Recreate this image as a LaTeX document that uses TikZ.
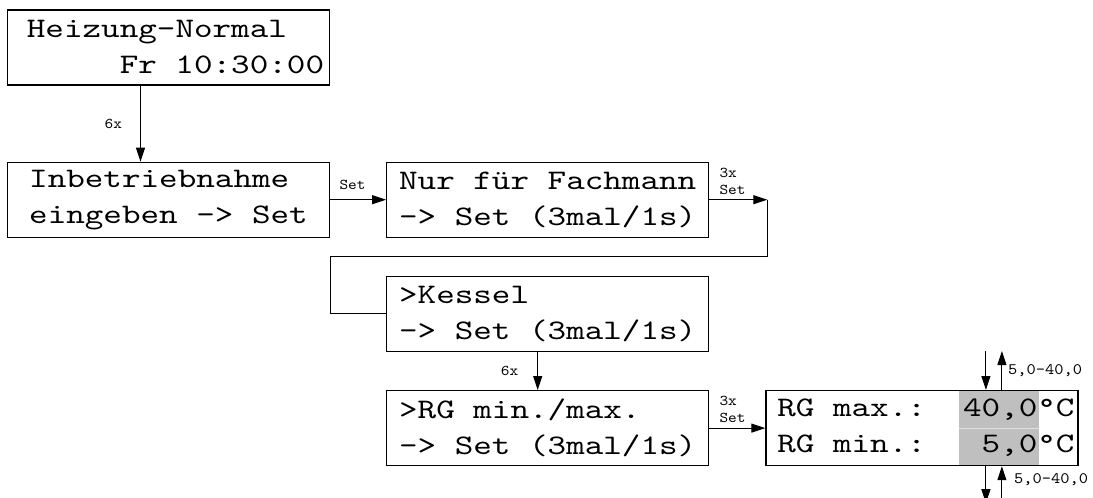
\documentclass[tikz,border=0pt]{standalone}
\usepackage{fontspec}
\usetikzlibrary{positioning,arrows.meta,backgrounds}
\newfontfamily\lcdfont{lmmono10-regular.otf}[FakeStretch=1.25]
\newfontfamily\kleinfont{lmmono10-regular.otf}[FakeStretch=1.1]

\tikzset{
  lcd/.style={draw, line width=1.2pt, minimum width=322pt, minimum height=75pt,
    inner sep=0pt, align=left, font=\lcdfont\fontsize{28.3}{36}\selectfont},
  pfeil/.style={-{Triangle[length=14pt,width=9pt]}, line width=1pt},
  klein/.style={font=\kleinfont\fontsize{15}{17}\selectfont, inner sep=0pt, align=left},
  bereich/.style={font=\kleinfont\fontsize{16}{17}\selectfont, inner sep=0pt, anchor=west},
}

\begin{document}
\begin{tikzpicture}[x=1pt, y=-1pt]
    \useasboundingbox (0, 0) rectangle (1093, 498);

    % 显示框
    \node[lcd] (normal) at (168.5, 47.5) {\hspace*{14pt}Heizung-Normal\\\hspace*{14pt}\hphantom{00000}Fr 10:30:00};
    \node[lcd, below=76pt of normal] (inbetrieb) {Inbetriebnahme\\eingeben -> Set};
    \node[lcd, right=56pt of inbetrieb] (fachmann) {Nur für Fachmann\\-> Set (3mal/1s)};
    \node[lcd, below=38pt of fachmann] (kessel) {>Kessel\\-> Set (3mal/1s)};
    \node[lcd, below=38pt of kessel] (rgmenu) {>RG min./max.\\-> Set (3mal/1s)};
    \node[lcd, minimum width=312pt, right=56pt of rgmenu] (rgwerte)
        {\hspace*{8pt}RG max.:\hphantom{00}40,0°C\\\hspace*{8pt}RG min.:\hphantom{000}5,0°C};

    % 灰色数值区
    \begin{scope}[on background layer]
        \fill[black!25] ([xshift=194pt]rgwerte.north west) rectangle ([xshift=274pt]rgwerte.south west);
        \draw[black!12, line width=1pt] ([xshift=194pt]rgwerte.west) -- ([xshift=274pt]rgwerte.west);
    \end{scope}

    % 连线
    \draw[pfeil] ([xshift=-28pt]normal.south) -- ([xshift=-28pt]inbetrieb.north)
        node[klein, midway, left=18pt] (mal6a) {6x};
    \draw[pfeil] (inbetrieb) -- (fachmann) node[klein, pos=0.4, above=10pt] (set1) {Set};

    \coordinate[right=58pt of fachmann] (ecke);
    \draw[pfeil] (fachmann) -- (ecke);
    \node[klein, anchor=south west] (mal3a) at ([xshift=10pt, yshift=5pt]fachmann.east) {3x\\Set};
    \draw[line width=1pt] (ecke) -- ++(0, 57) -| ([xshift=-56pt]kessel.west) -- (kessel.west);

    \draw[pfeil] ([xshift=-10pt]kessel.south) -- ([xshift=-10pt]rgmenu.north)
        node[klein, midway, left=19pt] (mal6b) {6x};
    \draw[pfeil] (rgmenu) -- (rgwerte);
    \node[klein, anchor=south west] (mal3b) at ([xshift=10pt, yshift=5pt]rgmenu.east) {3x\\Set};

    % 上下调节
    \coordinate (obab) at ([xshift=64pt, yshift=39pt]rgwerte.north);
    \coordinate (obauf) at ([xshift=80pt, yshift=39pt]rgwerte.north);
    \coordinate (untab) at ([xshift=64pt, yshift=-37pt]rgwerte.south);
    \coordinate (untauf) at ([xshift=80pt, yshift=-37pt]rgwerte.south);

    \draw[pfeil] (obab) -- (obab |- rgwerte.north);
    \draw[pfeil] (obauf |- rgwerte.north) -- (obauf);
    \draw[pfeil] (untab |- rgwerte.south) -- (untab);
    \draw[pfeil] (untauf) -- (untauf |- rgwerte.south);

    \node[bereich] (bereichob) at ([xshift=6pt, yshift=-20pt]obauf) {5,0-40,0};
    \node[bereich] (bereichunt) at ([xshift=12pt, yshift=24pt]untauf) {5,0-40,0};
\end{tikzpicture}
\end{document}
